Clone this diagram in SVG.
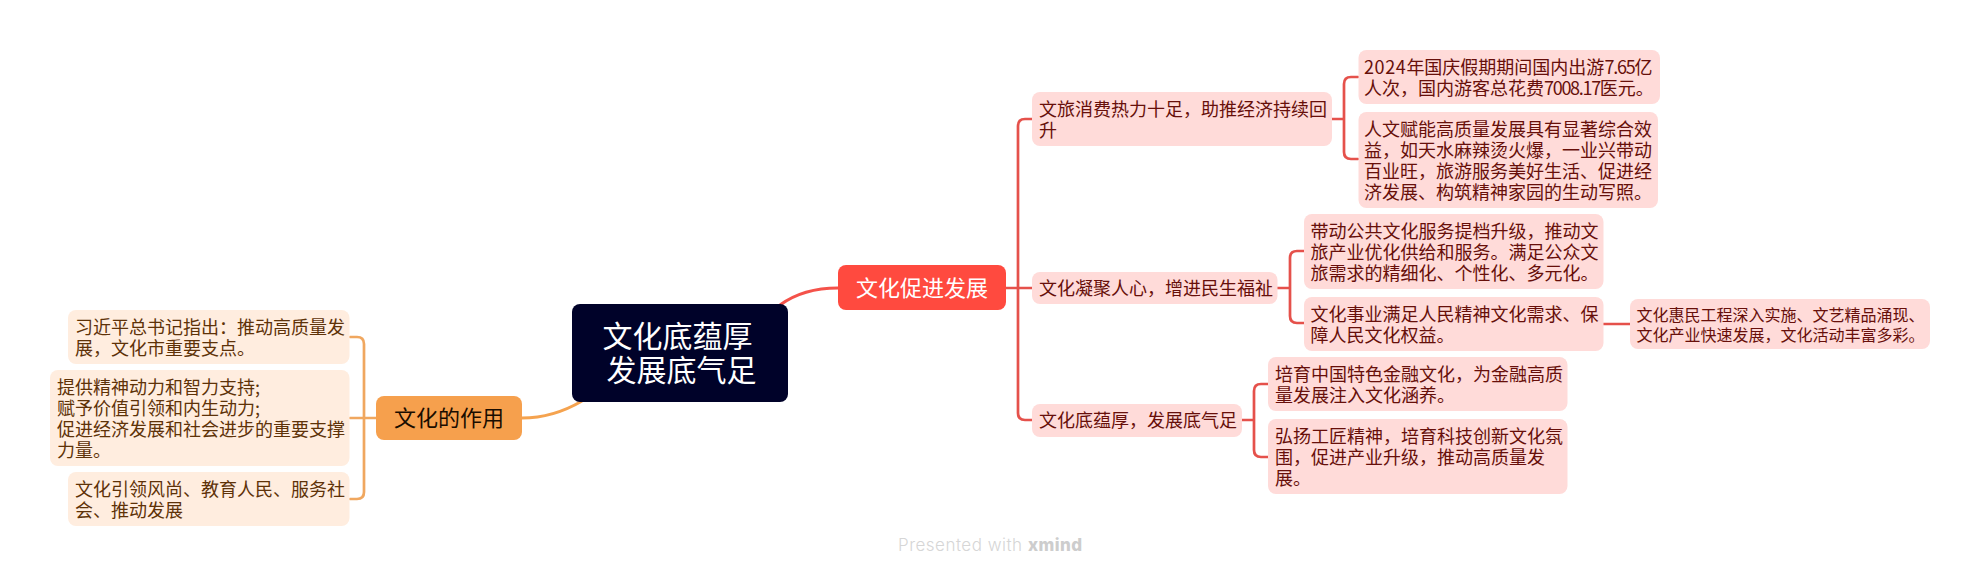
<svg xmlns="http://www.w3.org/2000/svg" width="1980" height="576" viewBox="0 0 1980 576">
<style>
text{font-family:"Noto Sans CJK SC","Noto Sans",sans-serif}
.p rect{fill:#ffdbd9}.p text{fill:#670f0a;font-size:18px}
.o rect{fill:#ffeddf}.o text{fill:#5e3208;font-size:18px}
.r,.a{fill:none;stroke-width:2.700;stroke-linecap:round}
.r{stroke:#e5514b}.a{stroke:#f0a75f}
.w{font-family:"Inter",sans-serif;font-size:17px}
</style>
<rect width="1980" height="576" fill="#fff"/>
<g id="connectors">
<path d="M780 305C795 294 815 288 838 288" fill="none" stroke="#f4524a" stroke-width="3"/>
<path d="M582 401C565 411 545 418 522 418" fill="none" stroke="#f5a34f" stroke-width="3"/>
<path class="r" d="M1006 288H1032M1032 119H1025Q1018 119 1018 126V413Q1018 420 1025 420H1032"/>
<path class="r" d="M1332 119H1344M1358 77H1351Q1344 77 1344 84V152Q1344 159 1351 159H1358"/>
<path class="r" d="M1277 288H1290M1304 251H1297Q1290 251 1290 258V316Q1290 323 1297 323H1304"/>
<path class="r" d="M1603 324H1630"/>
<path class="r" d="M1242 420H1254M1268 384H1261Q1254 384 1254 391V450Q1254 457 1261 457H1268"/>
<path class="a" d="M376 418H350M350 337H357Q364 337 364 344V492Q364 499 357 499H350"/>
</g>
<g id="central"><rect x="572" y="304" width="216" height="98" rx="8" fill="#000229"/><text x="602.500" y="346.500" font-size="30" fill="#fff">文化底蕴厚</text><text x="606.500" y="380.500" font-size="30" fill="#fff">发展底气足</text></g>
<g id="promote"><rect x="838" y="265" width="168" height="45" rx="8" fill="#ff4a3f"/><text x="922" y="296" font-size="22" fill="#fff" text-anchor="middle">文化促进发展</text></g>
<g id="role"><rect x="376" y="396" width="146" height="44" rx="8" fill="#f6a04d"/><text x="449" y="426" font-size="22" fill="#1a0d00" text-anchor="middle">文化的作用</text></g>
<g id="a" class="p"><rect x="1032" y="92" width="300" height="54" rx="8"/><text x="1039" y="116">文旅消费热力十足，助推经济持续回</text><text x="1039" y="137">升</text></g>
<g id="a1" class="p"><rect x="1358.500" y="50" width="301.500" height="54" rx="8"/><text x="1364" y="74"><tspan letter-spacing="0.600">2024</tspan>年国庆假期期间国内出游<tspan letter-spacing="-1.200">7.65</tspan>亿</text><text x="1364" y="95">人次，国内游客总花费<tspan letter-spacing="-1.300">7008.17</tspan>医元。</text></g>
<g id="a2" class="p"><rect x="1358.500" y="112" width="299.500" height="96" rx="8"/><text x="1364" y="136">人文赋能高质量发展具有显著综合效</text><text x="1364" y="157">益，如天水麻辣烫火爆，一业兴带动</text><text x="1364" y="178">百业旺，旅游服务美好生活、促进经</text><text x="1364" y="199">济发展、构筑精神家园的生动写照。</text></g>
<g id="b" class="p"><rect x="1032" y="272" width="245.500" height="32" rx="8"/><text x="1039" y="295">文化凝聚人心，增进民生福祉</text></g>
<g id="b1" class="p"><rect x="1304" y="214" width="299.500" height="75" rx="8"/><text x="1310.500" y="238">带动公共文化服务提档升级，推动文</text><text x="1310.500" y="259">旅产业优化供给和服务。满足公众文</text><text x="1310.500" y="280">旅需求的精细化、个性化、多元化。</text></g>
<g id="b2" class="p"><rect x="1304" y="297" width="299.500" height="54" rx="8"/><text x="1310.500" y="321">文化事业满足人民精神文化需求、保</text><text x="1310.500" y="342">障人民文化权益。</text></g>
<g id="b21" class="p"><rect x="1630" y="299" width="300" height="50" rx="8"/><text x="1636.500" y="320.500" style="font-size:16px">文化惠民工程深入实施、文艺精品涌现、</text><text x="1636.500" y="341" style="font-size:16px">文化产业快速发展，文化活动丰富多彩。</text></g>
<g id="c" class="p"><rect x="1032" y="404" width="210" height="33" rx="8"/><text x="1039" y="427">文化底蕴厚，发展底气足</text></g>
<g id="c1" class="p"><rect x="1268" y="357" width="299.500" height="54" rx="8"/><text x="1275" y="381">培育中国特色金融文化，为金融高质</text><text x="1275" y="402">量发展注入文化涵养。</text></g>
<g id="c2" class="p"><rect x="1268" y="419" width="299.500" height="75" rx="8"/><text x="1275" y="443">弘扬工匠精神，培育科技创新文化氛</text><text x="1275" y="464">围，促进产业升级，推动高质量发</text><text x="1275" y="485">展。</text></g>
<g id="l1" class="o"><rect x="68" y="310" width="281.500" height="54" rx="8"/><text x="75" y="334">习近平总书记指出：推动高质量发</text><text x="75" y="354.500">展，文化市重要支点。</text></g>
<g id="l2" class="o"><rect x="50" y="370" width="299.500" height="96" rx="8"/><text x="57" y="394">提供精神动力和智力支持;</text><text x="57" y="415">赋予价值引领和内生动力;</text><text x="57" y="436">促进经济发展和社会进步的重要支撑</text><text x="57" y="457">力量。</text></g>
<g id="l3" class="o"><rect x="68" y="472" width="281.500" height="54" rx="8"/><text x="75" y="496">文化引领风尚、教育人民、服务社</text><text x="75" y="517">会、推动发展</text></g>
<g id="watermark"><text class="w" x="898" y="551" fill="#d6d6d6" font-weight="300" textLength="124" lengthAdjust="spacing">Presented with</text><text class="w" x="1028" y="551" fill="#cdcdcd" font-weight="800" textLength="54" lengthAdjust="spacing">xmind</text></g>
</svg>
